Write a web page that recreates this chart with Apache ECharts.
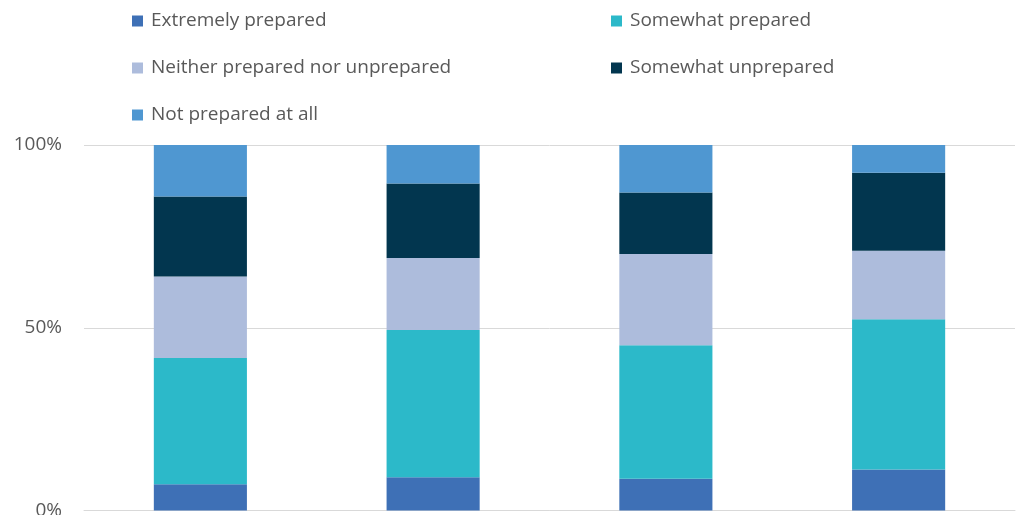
<!DOCTYPE html>
<html>
<head>
<meta charset="utf-8">
<script src="https://cdn.jsdelivr.net/npm/echarts@6/dist/echarts.min.js"></script>
<style>
  html, body { margin: 0; padding: 0; background: #fff; }
  #chart { width: 1017px; height: 515px; }
</style>
</head>
<body>
<div id="chart"></div>
<script>
// Survey groups (one stacked 100% column each)
const categories = ['Group 1', 'Group 2', 'Group 3', 'Group 4'];

// Share of respondents per answer, in percent
const extremelyPrepared   = [7.2, 9.1, 8.7, 11.2];
const somewhatPrepared    = [34.5, 40.3, 36.5, 41.1];
const neitherPrepared     = [22.3, 19.7, 25.0, 18.8];
const somewhatUnprepared  = [21.9, 20.4, 16.8, 21.3];
const notPreparedAtAll    = [14.1, 10.5, 13.0, 7.6];

const yTicks = [0, 50, 100];

const seriesNames = [
  'Extremely prepared',
  'Somewhat prepared',
  'Neither prepared nor unprepared',
  'Somewhat unprepared',
  'Not prepared at all'
];
const seriesData = [extremelyPrepared, somewhatPrepared, neitherPrepared, somewhatUnprepared, notPreparedAtAll];
const colors = ['#3e70b6', '#2cb9c9', '#adbcdc', '#02364f', '#4f97d1'];

const font = '"Open Sans", "Noto Sans", sans-serif';
const textColor = '#595959';

const legendCommon = {
  orient: 'vertical',
  padding: 0,
  itemWidth: 11,
  itemHeight: 11,
  itemGap: 25,
  icon: 'rect',
  textStyle: { color: textColor, fontSize: 19, fontFamily: font, lineHeight: 22, padding: [0, 0, 0, 3] },
  selectedMode: false
};

const chart = echarts.init(document.getElementById('chart'), null, { renderer: 'canvas' });
chart.setOption({
  animation: false,
  color: colors,
  legend: [
    Object.assign({}, legendCommon, {
      left: 132, top: 10,
      data: [seriesNames[0], seriesNames[2], seriesNames[4]]
    }),
    Object.assign({}, legendCommon, {
      left: 611, top: 10,
      data: [seriesNames[1], seriesNames[3]]
    })
  ],
  grid: { left: 84, right: 2, top: 145, bottom: 4.5, containLabel: false, outerBoundsMode: 'none' },
  xAxis: {
    type: 'category',
    data: categories,
    axisLine: { show: true, lineStyle: { color: '#d9d9d9', width: 1 } },
    axisTick: { show: false },
    axisLabel: { show: false }
  },
  yAxis: {
    type: 'value',
    min: yTicks[0],
    max: yTicks[yTicks.length - 1],
    interval: yTicks[1] - yTicks[0],
    axisLine: { show: false },
    axisTick: { show: false },
    axisLabel: {
      formatter: '{value}%',
      color: textColor,
      fontSize: 19,
      fontFamily: font,
      margin: 22
    },
    splitLine: { lineStyle: { color: '#d9d9d9', width: 1 } }
  },
  series: seriesNames.map((name, i) => ({
    name: name,
    type: 'bar',
    stack: 'total',
    barWidth: '40%',
    data: seriesData[i],
    itemStyle: { color: colors[i] }
  }))
});
</script>
</body>
</html>
